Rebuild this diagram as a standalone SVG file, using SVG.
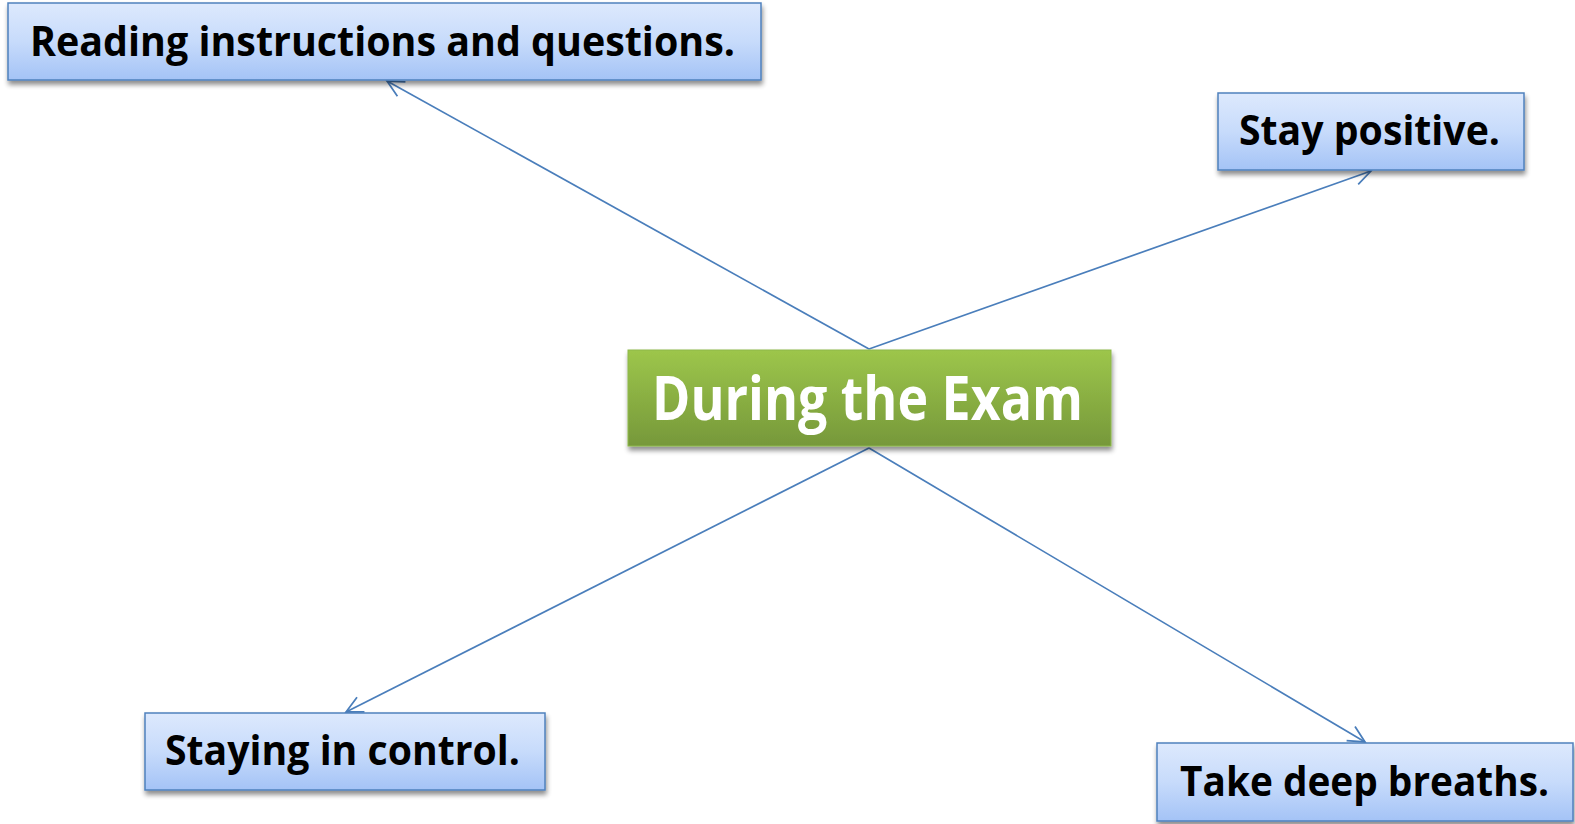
<svg xmlns="http://www.w3.org/2000/svg" width="1575" height="824" viewBox="0 0 1575 824">
<defs>
<linearGradient id="gb" x1="0" y1="0" x2="0" y2="1">
<stop offset="0" stop-color="#dde9fd"/>
<stop offset="0.5" stop-color="#c7dbfb"/>
<stop offset="1" stop-color="#a4c3f6"/>
</linearGradient>
<linearGradient id="gg" x1="0" y1="0" x2="0" y2="1">
<stop offset="0" stop-color="#9dc64b"/>
<stop offset="1" stop-color="#76983a"/>
</linearGradient>
<filter id="sh" x="-5%" y="-10%" width="110%" height="130%">
<feGaussianBlur in="SourceAlpha" stdDeviation="2.5"/>
<feOffset dx="1" dy="4" result="b"/>
<feComponentTransfer><feFuncA type="linear" slope="0.45"/></feComponentTransfer>
<feMerge><feMergeNode/><feMergeNode in="SourceGraphic"/></feMerge>
</filter>
<marker id="ah" viewBox="0 0 20 20" refX="18" refY="10" markerWidth="22" markerHeight="22" markerUnits="userSpaceOnUse" orient="auto">
<path d="M3,2.5 L18,10 L3,17.5" fill="none" stroke="#4a7ebb" stroke-width="1.6"/>
</marker>
</defs>
<style>
.bx{fill:url(#gb);stroke:#4f81bd;stroke-width:1.5;filter:url(#sh)}
.gx{fill:url(#gg);stroke:#8db84a;stroke-width:1;filter:url(#sh)}
.t{font-family:"Open Sans","Liberation Sans",sans-serif;font-weight:bold;font-size:41px;fill:#000}
.tw{font-family:"Open Sans","Liberation Sans",sans-serif;font-weight:bold;font-size:60px;fill:#fff}
.c{fill:none;stroke:#4a7ebb;stroke-width:1.7;marker-end:url(#ah)}
</style>
<rect width="1575" height="824" fill="#fff"/>
<g id="connectors">
<line class="c" x1="869" y1="349" x2="387" y2="81"/>
<line class="c" x1="869" y1="349" x2="1371" y2="171"/>
<line class="c" x1="869" y1="448" x2="346" y2="712"/>
<line class="c" x1="869" y1="448" x2="1365" y2="742"/>
</g>
<g id="center">
<rect class="gx" x="628" y="350" width="483" height="96"/>
<text class="tw" x="652" y="420" textLength="431" lengthAdjust="spacingAndGlyphs">During the Exam</text>
</g>
<g id="reading">
<rect class="bx" x="8" y="3" width="753" height="77"/>
<text class="t" x="30" y="56" textLength="705" lengthAdjust="spacingAndGlyphs">Reading instructions and questions.</text>
</g>
<g id="positive">
<rect class="bx" x="1218" y="93" width="306" height="77"/>
<text class="t" x="1239" y="145" textLength="261" lengthAdjust="spacingAndGlyphs">Stay positive.</text>
</g>
<g id="control">
<rect class="bx" x="145" y="713" width="400" height="77"/>
<text class="t" x="165" y="765" textLength="355" lengthAdjust="spacingAndGlyphs">Staying in control.</text>
</g>
<g id="breaths">
<rect class="bx" x="1157" y="743" width="416" height="78"/>
<text class="t" x="1180" y="796" textLength="369" lengthAdjust="spacingAndGlyphs">Take deep breaths.</text>
</g>
</svg>
